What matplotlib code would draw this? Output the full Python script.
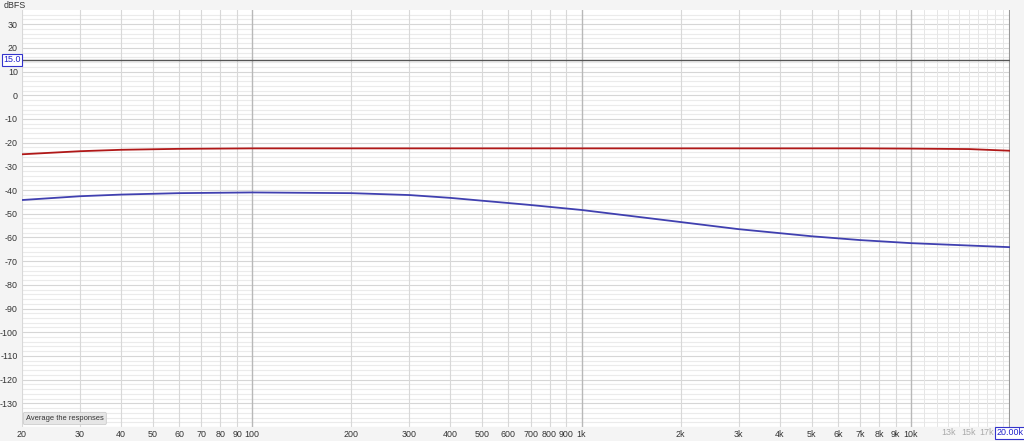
import matplotlib
matplotlib.use("Agg")
import matplotlib.pyplot as plt
import numpy as np

plt.rcParams['font.family'] = ['Liberation Sans', 'DejaVu Sans']

freq = [20, 30, 40, 60, 100, 200, 300, 400, 500, 700, 1000, 2000, 3000, 5000, 7000, 10000, 15000, 20000]
red_db = [-24.9, -23.6, -23.0, -22.6, -22.4, -22.4, -22.4, -22.4, -22.4, -22.4, -22.4, -22.4, -22.4, -22.4, -22.4, -22.5, -22.7, -23.4]
blue_db = [-44.2, -42.6, -41.9, -41.3, -41.0, -41.3, -42.1, -43.3, -44.5, -46.3, -48.4, -53.5, -56.5, -59.5, -61.1, -62.4, -63.4, -64.1]
ref_level = 15.0

y_ticks = list(range(30, -140, -10))
x_ticks = [20, 30, 40, 50, 60, 70, 80, 90, 100, 200, 300, 400, 500, 600, 700, 800, 900,
           1000, 2000, 3000, 4000, 5000, 6000, 7000, 8000, 9000, 10000]
x_tick_labels = ["20", "30", "40", "50", "60", "70", "80", "90", "100", "200", "300", "400", "500",
                 "600", "700", "800", "900", "1k", "2k", "3k", "4k", "5k", "6k", "7k", "8k", "9k", "10k"]
x_faint_ticks = [13000, 15000, 17000]
x_faint_labels = ["13k", "15k", "17k"]

W, H = 1024, 441
fig = plt.figure(figsize=(W / 100, H / 100), dpi=100, facecolor="#f4f4f4")
ax = fig.add_axes([22 / W, 1 - 427 / H, (1010 - 22) / W, (427 - 10) / H])
ax.set_facecolor("white")
ax.set_xscale("log")
ax.set_xlim(20, 20000)
ax.set_ylim(-140, 36)

# horizontal grid
for y in np.arange(-140, 36, 2):
    major = (y % 10 == 0)
    ax.axhline(y, color="#d6d6d6" if major else "#ebebeb", lw=0.8, zorder=0)
# vertical grid
vlines = list(range(20, 100, 10)) + list(range(100, 1000, 100)) + list(range(1000, 10000, 1000)) + list(range(10000, 20001, 1000))
for x in vlines:
    if x in (100, 1000, 10000):
        c, lw = "#b8b8b8", 1.0
    elif x > 10000:
        c, lw = "#e6e6e6", 0.7
    else:
        c, lw = "#d8d8d8", 0.8
    ax.axvline(x, color=c, lw=lw, zorder=0)
ax.axvline(20000, color="#999999", lw=1.5, zorder=1)

ax.axhline(ref_level, color="#555555", lw=1.0, zorder=2)

ax.plot(freq, red_db, color="#b01818", lw=1.3, zorder=3)
ax.plot(freq, blue_db, color="#4040b0", lw=1.3, zorder=3)

for s in ax.spines.values():
    s.set_visible(False)

ax.set_yticks(y_ticks)
ax.set_yticklabels([str(v) for v in y_ticks])
ax.set_xticks(x_ticks)
ax.set_xticklabels(x_tick_labels)
ax.xaxis.set_minor_locator(matplotlib.ticker.NullLocator())
ax.tick_params(axis="both", length=0, labelsize=6.4, colors="#333333")
ax.tick_params(axis="x", pad=2.5)
ax.tick_params(axis="y", pad=3)

for xv, lab in zip(x_faint_ticks, x_faint_labels):
    ax.text(xv, -140.6, lab, ha="center", va="top", fontsize=6.4, color="#aaaaaa")
ax.text(20000, -140.6, "20.00k", ha="center", va="top", fontsize=6.4, color="#2222cc",
        bbox=dict(boxstyle="square,pad=0.15", fc="white", ec="#3333cc", lw=0.8))

ax.text(-0.001, ref_level, "15.0", transform=ax.get_yaxis_transform(), ha="right", va="center",
        fontsize=6.4, color="#2222cc",
        bbox=dict(boxstyle="square,pad=0.15", fc="white", ec="#3333cc", lw=0.8))

fig.text(4 / W, 1 - 5 / H, "dBFS", ha="left", va="center", fontsize=6.4, color="#333333")

ax.text(0.004, 0.012, "Average the responses", transform=ax.transAxes, ha="left", va="bottom",
        fontsize=5.4, color="#333333",
        bbox=dict(boxstyle="round,pad=0.35,rounding_size=0.2", fc="#e6e6e6", ec="#cccccc", lw=0.6))

fig.savefig("out.png", dpi=100, facecolor=fig.get_facecolor())
